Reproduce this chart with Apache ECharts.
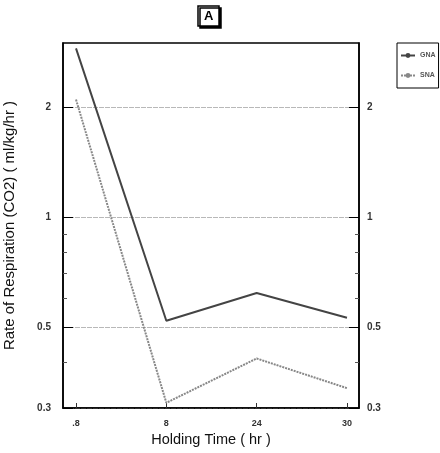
<!DOCTYPE html>
<html>
<head>
<meta charset="utf-8">
<script src="https://cdn.jsdelivr.net/npm/echarts@6/dist/echarts.min.js"></script>
<style>
  html, body { margin: 0; padding: 0; background: #fff; }
  #demo { width: 440px; height: 453px; }
</style>
</head>
<body>
<div id="demo"></div>
<script>
// holding time categories (hr)
var categories = ['.8', '8', '24', '30'];
var catIndex = [0, 1, 2, 3];
// rate of respiration, CO2 ml/kg/hr
var gnaValues = [2.9, 0.52, 0.62, 0.53];
var snaValues = [2.1, 0.31, 0.41, 0.34];
var seriesNames = ['GNA', 'SNA'];
var majorTicks = [0.3, 0.5, 1, 2];
var minorTicks = [0.4, 0.6, 0.7, 0.8, 0.9];

function pairs(vals) {
    return catIndex.map(function (i) { return [i, vals[i]]; });
}

var labelFont = { color: '#333', fontWeight: 'bold', fontFamily: 'Arial', fontSize: 10 };

function yAxis(pos, showLabel) {
    return {
        type: 'log',
        logBase: 10,
        min: 0.3,
        max: 3,
        position: pos,
        axisLine: { show: true, onZero: false, lineStyle: { color: '#000', width: 1.5 } },
        axisTick: { show: true, inside: true, length: 10, customValues: majorTicks, lineStyle: { color: '#000' } },
        axisLabel: Object.assign({ show: showLabel, customValues: majorTicks, margin: pos == 'left' ? 12 : 8 }, labelFont),
        splitLine: { show: pos == 'left', lineStyle: { color: '#b8b8b8', width: 1.2, type: [5, 1] } },
        minorTick: { show: false }
    };
}

function yMinor(pos) {
    return {
        type: 'log',
        logBase: 10,
        min: 0.3,
        max: 3,
        position: pos,
        axisLine: { show: false, onZero: false },
        axisTick: { show: true, inside: true, length: 4, customValues: minorTicks, lineStyle: { color: '#555' } },
        axisLabel: { show: false },
        splitLine: { show: false }
    };
}

var option = {
    animation: false,
    backgroundColor: '#fff',
    title: {
        text: 'A',
        left: 198,
        top: 6,
        padding: [4, 6, 3, 6],
        borderColor: '#000',
        borderWidth: 1.5,
        backgroundColor: '#fff',
        shadowColor: '#000',
        shadowBlur: 0,
        shadowOffsetX: 2,
        shadowOffsetY: 2,
        textStyle: { fontSize: 13, fontWeight: 'bold', fontFamily: 'Arial', color: '#000' }
    },
    legend: {
        data: seriesNames,
        orient: 'vertical',
        left: 397,
        top: 43,
        itemWidth: 14,
        itemHeight: 6,
        itemGap: 13,
        padding: [9, 3, 9, 3],
        borderColor: '#000',
        borderWidth: 1,
        textStyle: { fontSize: 7, fontWeight: 'bold', color: '#555', fontFamily: 'Arial' }
    },
    grid: {
        left: 63, right: 81, top: 43, bottom: 45,
        outerBoundsMode: 'none',
        show: true,
        borderColor: '#000',
        borderWidth: 1.5
    },
    xAxis: {
        type: 'value',
        min: -0.144,
        max: 3.133,
        name: 'Holding Time ( hr )',
        nameLocation: 'middle',
        nameGap: 23,
        nameTextStyle: { fontSize: 14.5, color: '#111', fontFamily: 'Arial' },
        axisLine: { show: true, onZero: false, lineStyle: { color: '#000', width: 1.5 } },
        axisTick: { show: true, inside: true, length: 5, customValues: catIndex, lineStyle: { color: '#333' } },
        axisLabel: Object.assign({
            customValues: catIndex,
            margin: 11,
            formatter: function (v) { return categories[Math.round(v)]; }
        }, labelFont, { fontSize: 9 }),
        splitLine: { show: false }
    },
    yAxis: [
        Object.assign(yAxis('left', true), {
            name: 'Rate of Respiration (CO2) ( ml/kg/hr )',
            nameLocation: 'middle',
            nameGap: 46,
            nameTextStyle: { fontSize: 15, color: '#111', fontFamily: 'Arial' }
        }),
        yAxis('right', true),
        yMinor('left'),
        yMinor('right')
    ],
    series: [
        {
            name: seriesNames[0],
            type: 'line',
            data: pairs(gnaValues),
            symbol: 'none',
            lineStyle: { color: '#444', width: 2 },
            itemStyle: { color: '#444' }
        },
        {
            name: seriesNames[1],
            type: 'line',
            data: pairs(snaValues),
            symbol: 'none',
            lineStyle: { color: '#888', width: 2, type: [2, 1] },
            itemStyle: { color: '#888' }
        }
    ]
};

var myChart = echarts.init(document.getElementById('demo'));
myChart.setOption(option);
</script>
</body>
</html>
